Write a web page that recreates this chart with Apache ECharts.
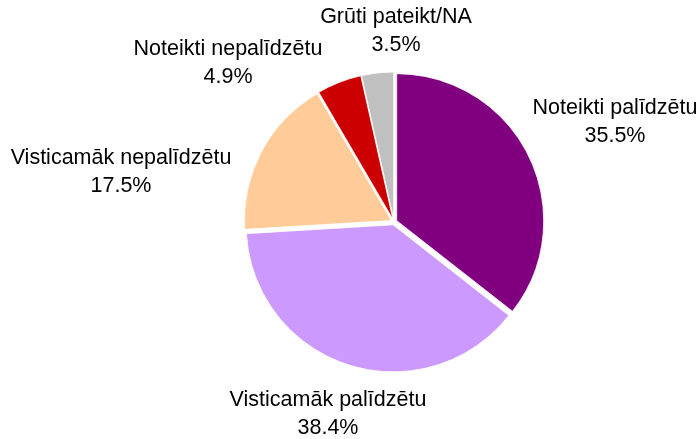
<!DOCTYPE html>
<html>
<head>
<meta charset="utf-8">
<script src="https://cdn.jsdelivr.net/npm/echarts@6/dist/echarts.min.js"></script>
<style>
  html, body { margin: 0; padding: 0; background: #fff; }
  #chart { width: 700px; height: 439px; }
</style>
</head>
<body>
<div id="chart"></div>
<script>
// answers, in clockwise order from 12 o'clock
var categories = ['Noteikti palīdzētu', 'Visticamāk palīdzētu', 'Visticamāk nepalīdzētu', 'Noteikti nepalīdzētu', 'Grūti pateikt/NA'];
var shares = [35.5, 38.4, 17.5, 4.9, 3.5];
var colors = ['#800080', '#CC99FF', '#FFCC99', '#CC0000', '#C0C0C0'];

// where each label block sits (centre, px)
var labelSpots = [[615, 122], [328, 414], [121, 172], [228, 63], [396, 31]];

var myChart = echarts.init(document.getElementById('chart'));

// slices are all pulled out a little (selected), labels come from a
// second, invisible pie so that selection states don't reset them
var sliceData = categories.map(function (name, i) {
  return { name: name, value: shares[i], selected: true, itemStyle: { color: colors[i] } };
});
var labelData = categories.map(function (name, i) {
  return { name: name, value: shares[i] };
});

var option = {
  animation: false,
  backgroundColor: '#fff',
  series: [
    {
      type: 'pie',
      center: [394, 222],
      radius: 147,
      startAngle: 90,
      selectedMode: 'multiple',
      selectedOffset: 3,
      emphasis: { disabled: true },
      itemStyle: { borderColor: '#fff', borderWidth: 0.8 },
      label: { show: false },
      labelLine: { show: false },
      data: sliceData
    },
    {
      type: 'pie',
      center: [394, 222],
      radius: 147,
      startAngle: 90,
      silent: true,
      selectedMode: false,
      emphasis: { disabled: true },
      itemStyle: { color: 'rgba(0,0,0,0)' },
      label: {
        show: true,
        position: 'outside',
        overflow: 'none',
        formatter: function (p) {
          return p.name + '\n' + p.value.toFixed(1) + '%';
        },
        fontFamily: 'Liberation Sans, Arial, sans-serif',
        fontSize: 21.5,
        lineHeight: 28,
        color: '#000',
        align: 'center'
      },
      labelLine: { show: false },
      labelLayout: function (params) {
        var spot = labelSpots[params.dataIndex];
        return { x: spot[0], y: spot[1], align: 'center', verticalAlign: 'middle' };
      },
      data: labelData
    }
  ]
};

myChart.setOption(option);
</script>
</body>
</html>
